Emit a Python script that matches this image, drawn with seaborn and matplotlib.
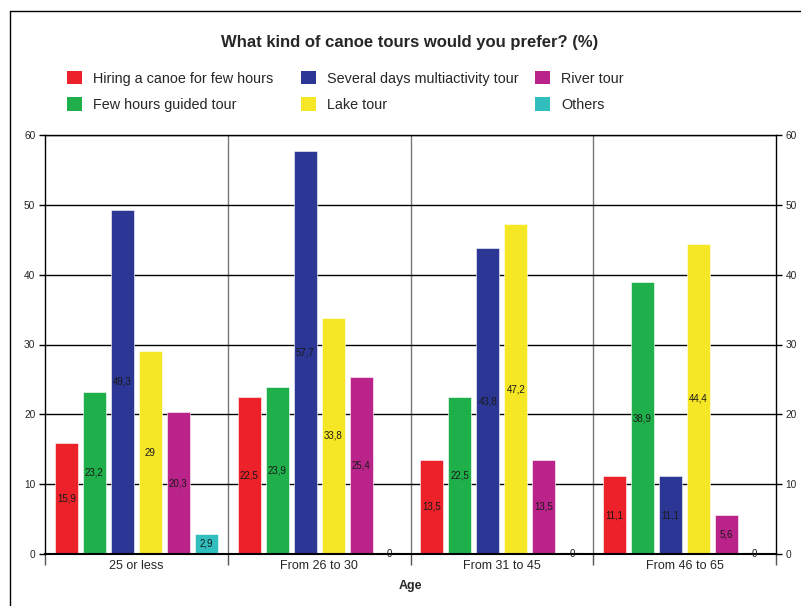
import matplotlib
matplotlib.use("Agg")
import matplotlib.pyplot as plt
from matplotlib.lines import Line2D
from matplotlib.ticker import FixedLocator
import seaborn as sns
import pandas as pd

ages = ["25 or less", "From 26 to 30", "From 31 to 45", "From 46 to 65"]
tour_types = [
    "Hiring a canoe for few hours",
    "Few hours guided tour",
    "Several days multiactivity tour",
    "Lake tour",
    "River tour",
    "Others",
]
hiring = [15.9, 22.5, 13.5, 11.1]
guided = [23.2, 23.9, 22.5, 38.9]
several_days = [49.3, 57.7, 43.8, 11.1]
lake = [29.0, 33.8, 47.2, 44.4]
river = [20.3, 25.4, 13.5, 5.6]
others = [2.9, 0.0, 0.0, 0.0]

series = [hiring, guided, several_days, lake, river, others]
colors = ["#ED2129", "#1FB04B", "#2C3694", "#F5E626", "#BA2389", "#30BFBE"]
yticks = [0, 10, 20, 30, 40, 50, 60]

rows = []
for name, vals in zip(tour_types, series):
    for age, v in zip(ages, vals):
        rows.append({"Age": age, "Tour": name, "Percent": v})
df = pd.DataFrame(rows)

sns.set_theme(style="white")
plt.rcParams["font.family"] = ["Liberation Sans", "DejaVu Sans"]

fig = plt.figure(figsize=(8.01, 6.06), dpi=100)
ax = fig.add_axes([45 / 801, 1 - 554 / 606, 731 / 801, 419 / 606])

sns.barplot(
    data=df, x="Age", y="Percent", hue="Tour",
    order=ages, hue_order=tour_types, palette=colors,
    width=0.92, gap=0.18, saturation=1, legend=False, ax=ax,
    edgecolor="white", linewidth=0.4,
)

# value labels inside the bars, with decimal commas
for cont, vals, col in zip(ax.containers, series, colors):
    for patch in cont.patches:
        if patch.get_height() == 0:
            patch.set_edgecolor(col)
            patch.set_linewidth(1.5)
    ax.bar_label(
        cont,
        labels=[f"{v:g}".replace(".", ",") for v in vals],
        label_type="center", fontsize=7, color="#1a1a1a",
    )

ax.set_xlim(-0.5, 3.5)
ax.set_ylim(0, 60)
ax.set_yticks(yticks)
ax.set_yticklabels([str(t) for t in yticks])
ax.yaxis.grid(True, color="black", linewidth=1)
ax.set_axisbelow(True)

# category separators
for xb in [0.5, 1.5, 2.5]:
    ax.axvline(xb, color="#777777", linewidth=1, zorder=0)

ax.xaxis.set_minor_locator(FixedLocator([-0.5, 0.5, 1.5, 2.5, 3.5]))
ax.tick_params(axis="x", which="major", length=0, labelsize=9, pad=4)
ax.tick_params(axis="x", which="minor", bottom=True, length=8, width=1, color="#555555")
ax.tick_params(axis="y", left=True, right=True, labelleft=True, labelright=True,
               length=4, width=1, color="black", labelsize=7.3, pad=3)

for side in ["left", "bottom", "right", "top"]:
    ax.spines[side].set_color("black")
    ax.spines[side].set_linewidth(1)
ax.spines["bottom"].set_linewidth(1.5)

ax.set_ylabel("")
ax.set_xlabel("Age", fontsize=9, fontweight="bold", labelpad=6)

fig.text(410 / 801, 1 - 42 / 606, "What kind of canoe tours would you prefer? (%)",
         ha="center", va="center", fontsize=12, fontweight="bold")

# legend, one column block per pair of entries
handles = [plt.Rectangle((0, 0), 1, 1, facecolor=c, edgecolor="none") for c in colors]
col_x = [67, 301, 535]
for i, x0 in enumerate(col_x):
    fig.legend(handles[2 * i:2 * i + 2], tour_types[2 * i:2 * i + 2], ncol=1,
               loc="upper left", bbox_to_anchor=(x0 / 801, 1 - 71 / 606),
               frameon=False, fontsize=10.4, handlelength=1.05, handleheight=1.05,
               handletextpad=0.75, labelspacing=0.8, borderpad=0, borderaxespad=0)

# outer frame lines
fig.add_artist(Line2D([10 / 801, 1.0], [1 - 11 / 606, 1 - 11 / 606], color="black", linewidth=1))
fig.add_artist(Line2D([10 / 801, 10 / 801], [0.0, 1 - 11 / 606], color="black", linewidth=1))

fig.savefig("out.png", dpi=100)
